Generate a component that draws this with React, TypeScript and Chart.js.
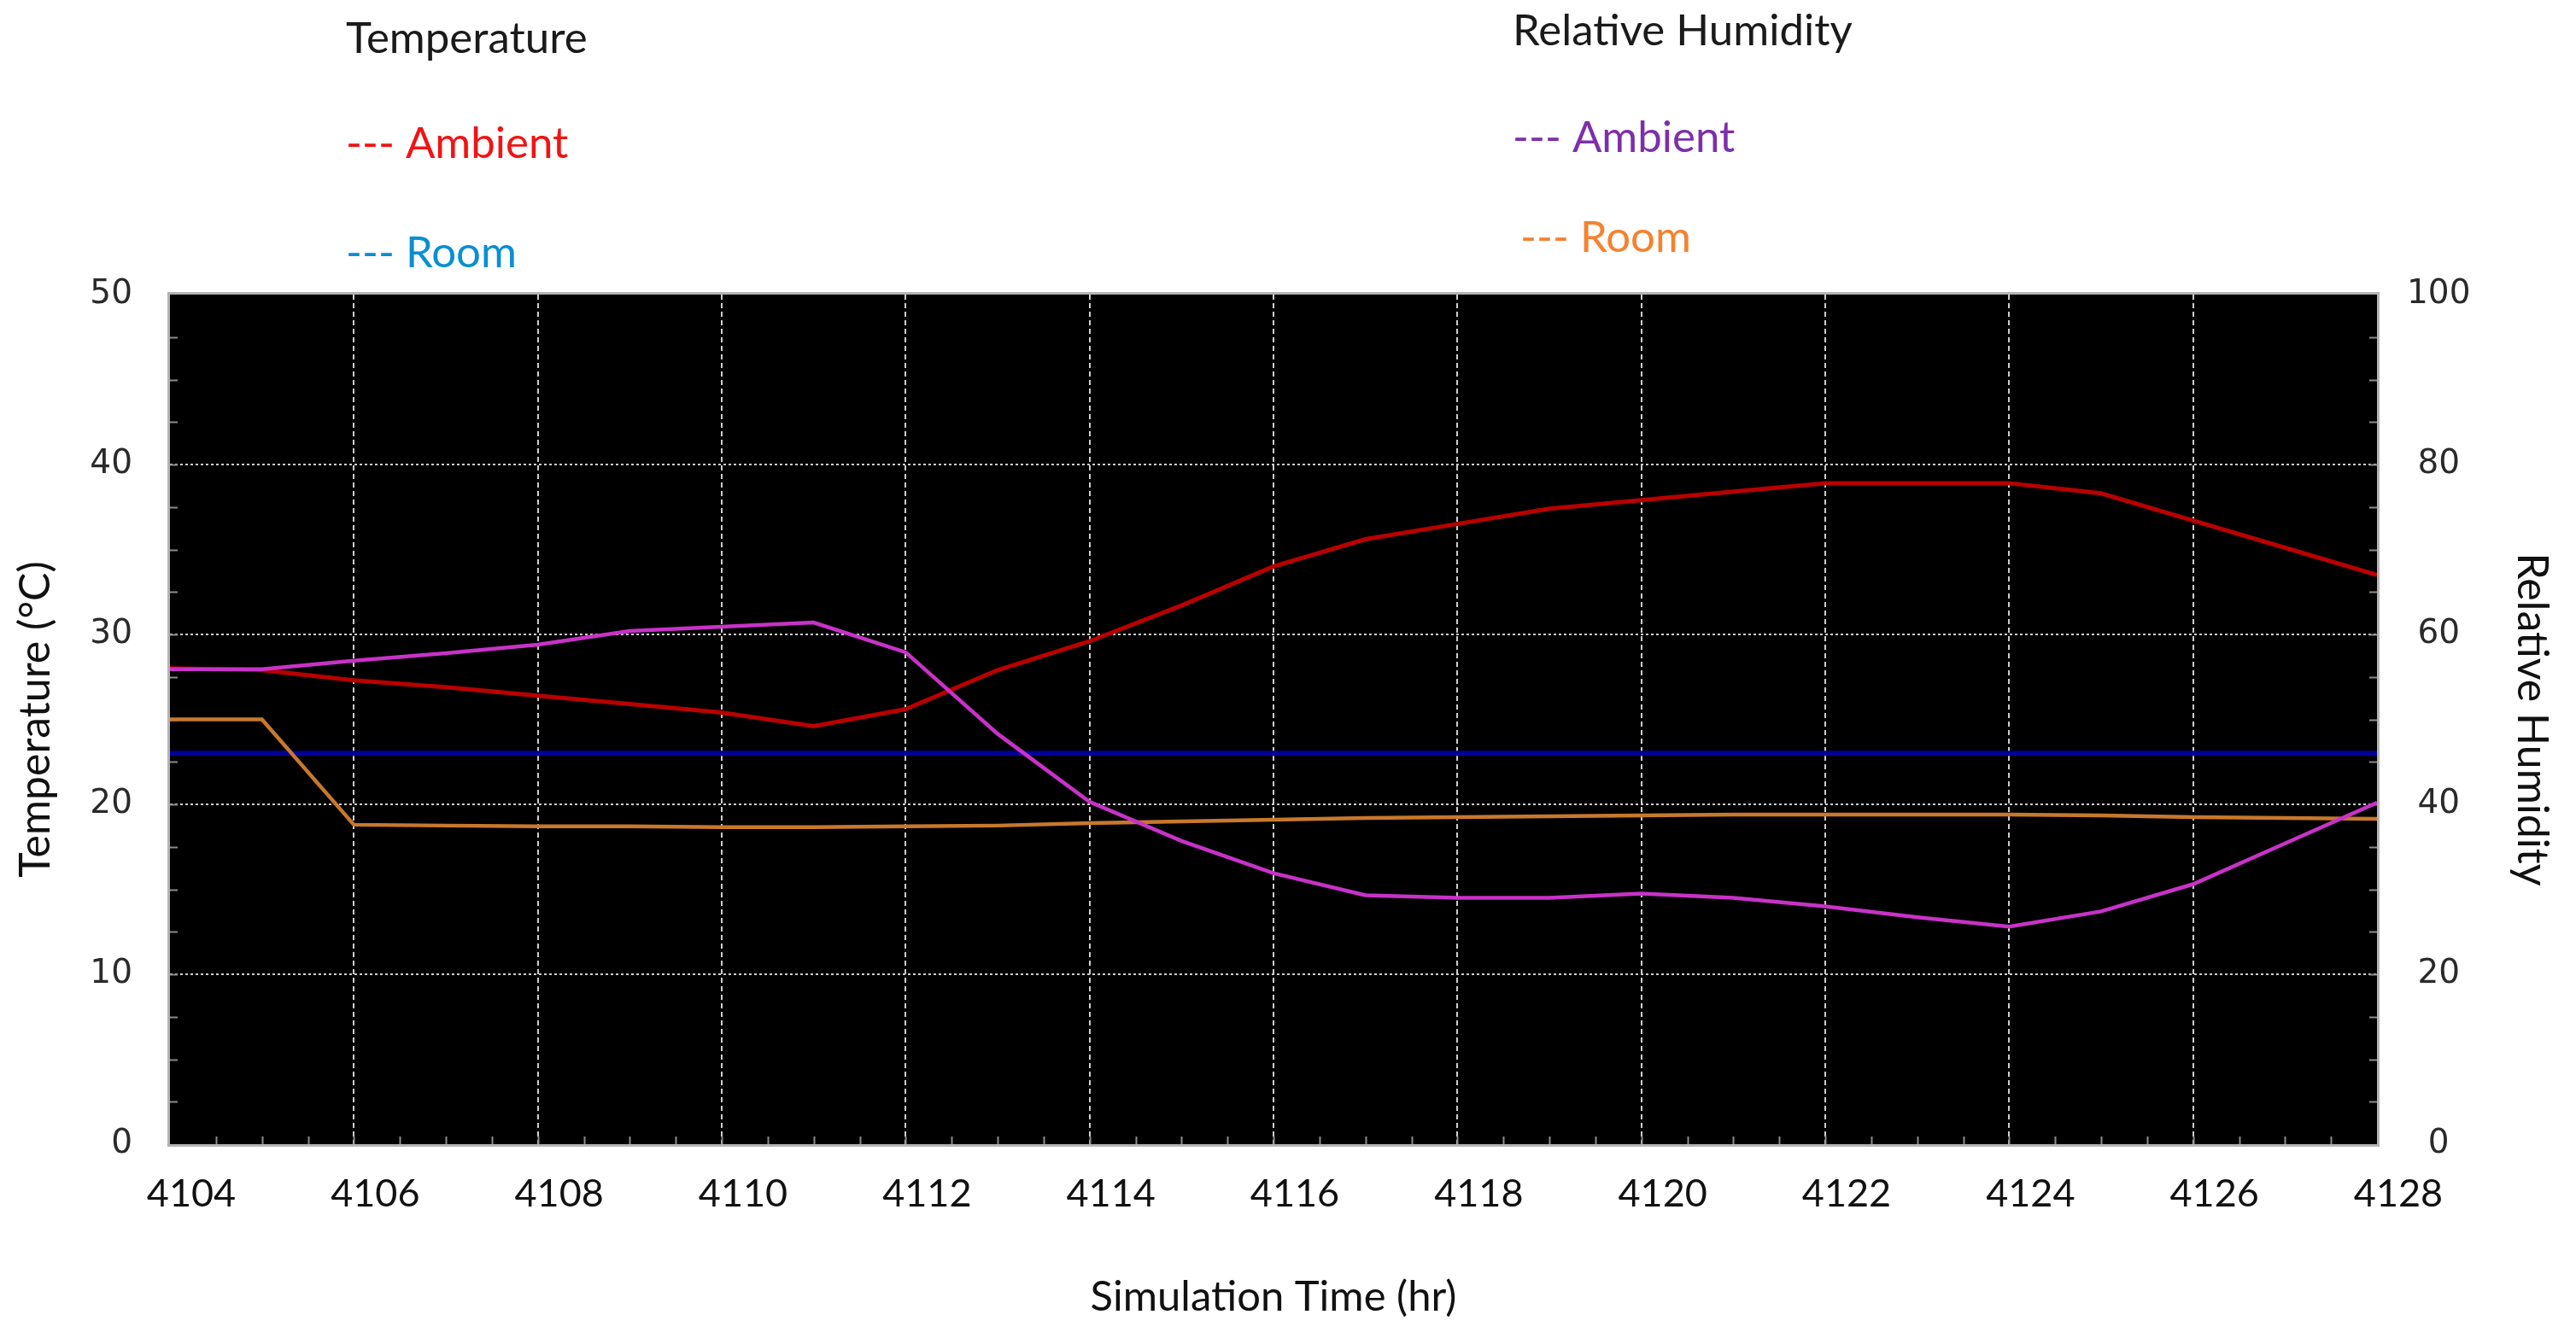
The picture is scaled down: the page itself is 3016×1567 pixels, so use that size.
import React, { useEffect, useRef } from 'react';
import { Chart, registerables } from 'chart.js';

Chart.register(...registerables);

// ---- Data ----
const hours = [4104, 4105, 4106, 4107, 4108, 4109, 4110, 4111, 4112, 4113, 4114, 4115, 4116, 4117, 4118, 4119, 4120, 4121, 4122, 4123, 4124, 4125, 4126, 4127, 4128];
const tempAmbient = [28.0, 27.9, 27.3, 26.9, 26.4, 25.9, 25.4, 24.6, 25.6, 27.9, 29.6, 31.7, 34.0, 35.6, 36.5, 37.4, 37.9, 38.4, 38.9, 38.9, 38.9, 38.3, 36.7, 35.1, 33.5];
const tempRoom = [23.0, 23.0, 23.0, 23.0, 23.0, 23.0, 23.0, 23.0, 23.0, 23.0, 23.0, 23.0, 23.0, 23.0, 23.0, 23.0, 23.0, 23.0, 23.0, 23.0, 23.0, 23.0, 23.0, 23.0, 23.0];
const rhAmbient = [55.9, 55.9, 56.9, 57.8, 58.8, 60.4, 60.9, 61.4, 57.9, 48.3, 40.3, 35.7, 31.9, 29.3, 29.0, 29.0, 29.5, 29.0, 28.0, 26.7, 25.6, 27.4, 30.6, 35.4, 40.2];
const rhRoom = [50.0, 50.0, 37.6, 37.5, 37.4, 37.4, 37.3, 37.3, 37.4, 37.5, 37.8, 38.0, 38.2, 38.4, 38.5, 38.6, 38.7, 38.8, 38.8, 38.8, 38.8, 38.7, 38.5, 38.4, 38.3];

const xTicks = [4104, 4106, 4108, 4110, 4112, 4114, 4116, 4118, 4120, 4122, 4124, 4126, 4128];
const tempTicks = [0, 10, 20, 30, 40, 50];
const rhTicks = [0, 20, 40, 60, 80, 100];

const W = 3016;
const H = 1567;

const toPoints = (ys: number[]) => hours.map((h, i) => ({ x: h, y: ys[i] }));

const decorPlugin = {
  id: 'decor',
  beforeDraw(chart: any) {
    const { ctx, chartArea: a } = chart;
    ctx.save();
    ctx.fillStyle = '#ffffff';
    ctx.fillRect(0, 0, chart.width, chart.height);
    ctx.fillStyle = '#000000';
    ctx.fillRect(a.left, a.top, a.right - a.left, a.bottom - a.top);
    ctx.restore();
  },
  beforeDatasetsDraw(chart: any) {
    const { ctx, chartArea: a, scales } = chart;
    ctx.save();
    ctx.strokeStyle = '#8c8c8c';
    ctx.lineWidth = 2;
    const ys = scales.y;
    for (let v = 2.5; v < 50; v += 2.5) {
      const py = Math.round(ys.getPixelForValue(v)) + 0.5;
      ctx.beginPath();
      ctx.moveTo(a.left, py);
      ctx.lineTo(a.left + 9, py);
      ctx.moveTo(a.right - 9, py);
      ctx.lineTo(a.right, py);
      ctx.stroke();
    }
    const xs = scales.x;
    for (let v = 4104.5; v < 4128; v += 0.5) {
      const px = Math.round(xs.getPixelForValue(v)) + 0.5;
      ctx.beginPath();
      ctx.moveTo(px, a.bottom - 9);
      ctx.lineTo(px, a.bottom);
      ctx.stroke();
    }
    ctx.strokeStyle = '#b4b4b4';
    ctx.lineWidth = 3;
    ctx.strokeRect(a.left - 1.5, a.top - 1.5, a.right - a.left + 3, a.bottom - a.top + 3);
    ctx.restore();
  },
  afterDraw(chart: any) {
    const { ctx } = chart;
    ctx.save();
    ctx.textBaseline = 'alphabetic';
    ctx.textAlign = 'left';
    ctx.font = '51px Lato, "Open Sans", sans-serif';
    const items: [string, string, number, number][] = [
      ['Temperature', '#1a1a1a', 405, 62],
      ['--- Ambient', '#f01414', 405, 185],
      ['--- Room', '#0a8fd2', 405, 313],
      ['Relative Humidity', '#1a1a1a', 1771, 53],
      ['--- Ambient', '#7d2fab', 1771, 178],
      ['--- Room', '#f5822f', 1780, 295],
    ];
    for (const [t, c, x, y] of items) {
      ctx.fillStyle = c;
      ctx.fillText(t, x, y);
    }
    ctx.restore();
  },
};

export default function App() {
  const ref = useRef<HTMLCanvasElement | null>(null);

  useEffect(() => {
    if (!ref.current) return;
    const tickFontY = { family: '"DejaVu Sans", Verdana, sans-serif', size: 39 };
    const titleFont = { family: 'Lato, "Open Sans", sans-serif', size: 50 };
    const chart = new Chart(ref.current, {
      type: 'line',
      data: {
        datasets: [
          {
            label: 'RH Ambient',
            data: toPoints(rhAmbient),
            yAxisID: 'y1',
            borderColor: '#c832c8',
            borderWidth: 4.5,
            pointRadius: 0,
            tension: 0,
          },
          {
            label: 'Temperature Ambient',
            data: toPoints(tempAmbient),
            yAxisID: 'y',
            borderColor: '#b80000',
            borderWidth: 5,
            pointRadius: 0,
            tension: 0,
          },
          {
            label: 'RH Room',
            data: toPoints(rhRoom),
            yAxisID: 'y1',
            borderColor: '#c8782d',
            borderWidth: 4.5,
            pointRadius: 0,
            tension: 0,
          },
          {
            label: 'Temperature Room',
            data: toPoints(tempRoom),
            yAxisID: 'y',
            borderColor: '#000096',
            borderWidth: 6,
            pointRadius: 0,
            tension: 0,
          },
        ],
      },
      options: {
        responsive: false,
        animation: false,
        devicePixelRatio: 1,
        layout: { padding: { top: 345, left: 0, right: 0, bottom: 0 } },
        plugins: { legend: { display: false }, tooltip: { enabled: false } },
        scales: {
          x: {
            type: 'linear',
            min: 4104,
            max: 4128,
            afterBuildTicks: (s: any) => {
              s.ticks = xTicks.map((v) => ({ value: v }));
            },
            afterFit: (s: any) => {
              s.height = 227;
            },
            ticks: {
              autoSkip: false,
              maxRotation: 0,
              padding: 31,
              labelOffset: 25,
              color: '#111111',
              font: { family: 'Lato, "Open Sans", sans-serif', size: 45 },
              callback: (v: any) => String(v),
            },
            grid: {
              drawTicks: false,
              lineWidth: 2,
              color: (c: any) =>
                c.tick && (c.tick.value === 4104 || c.tick.value === 4128) ? 'rgba(0,0,0,0)' : '#cdcdcd',
            },
            border: { display: false, dash: [6, 4] },
            title: {
              display: true,
              text: 'Simulation Time (hr)',
              color: '#111111',
              font: { family: 'Lato, "Open Sans", sans-serif', size: 49 },
              padding: { top: 0, bottom: 18 },
            },
          },
          y: {
            position: 'left',
            min: 0,
            max: 50,
            afterBuildTicks: (s: any) => {
              s.ticks = tempTicks.map((v) => ({ value: v }));
            },
            afterFit: (s: any) => {
              s.width = 199;
            },
            ticks: {
              padding: 44,
              color: '#2a2a2a',
              font: tickFontY,
            },
            grid: {
              drawTicks: false,
              lineWidth: 2,
              color: (c: any) =>
                c.tick && (c.tick.value === 0 || c.tick.value === 50) ? 'rgba(0,0,0,0)' : '#cdcdcd',
            },
            border: { display: false, dash: [3, 3] },
            title: {
              display: true,
              text: 'Temperature (°C)',
              color: '#111111',
              font: titleFont,
              padding: { top: 12, bottom: 0 },
            },
          },
          y1: {
            position: 'right',
            min: 0,
            max: 100,
            afterBuildTicks: (s: any) => {
              s.ticks = rhTicks.map((v) => ({ value: v }));
            },
            afterFit: (s: any) => {
              s.width = 233;
            },
            ticks: {
              padding: 35,
              crossAlign: 'center',
              color: '#2a2a2a',
              font: tickFontY,
            },
            grid: { display: false, drawTicks: false },
            border: { display: false },
            title: {
              display: true,
              text: 'Relative Humidity',
              color: '#111111',
              font: titleFont,
              padding: { top: 22, bottom: 0 },
            },
          },
        },
      } as any,
      plugins: [decorPlugin],
    });
    return () => chart.destroy();
  }, []);

  return (
    <div style={{ position: 'fixed', left: 0, top: 0, width: W, height: H, background: '#ffffff' }}>
      <canvas ref={ref} width={W} height={H} style={{ width: W, height: H, display: 'block' }} />
    </div>
  );
}
